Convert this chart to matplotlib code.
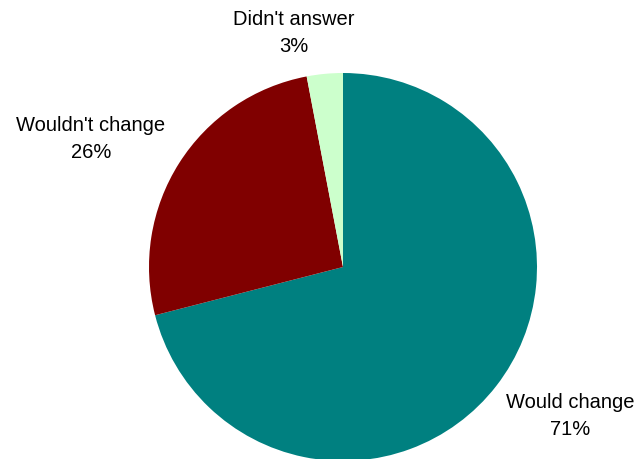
import matplotlib
matplotlib.use("Agg")
import matplotlib.pyplot as plt

categories = ["Would change", "Wouldn't change", "Didn't answer"]
shares = [71, 26, 3]
colors = ["#008080", "#800000", "#CCFFCC"]
# label anchor points (pixels from top-left) for each category
label_xy = [(570, 416), (91, 139), (294, 33)]

W, H = 638, 459
fig = plt.figure(figsize=(W / 100, H / 100), dpi=100)
ax = fig.add_axes([0, 0, 1, 1])

ax.pie(shares, colors=colors, startangle=90, counterclock=False,
       center=(343, H - 267), radius=194, frame=True,
       wedgeprops=dict(linewidth=0))
ax.set_xlim(0, W)
ax.set_ylim(0, H)
ax.set_aspect("equal")
ax.axis("off")

for name, val, (px, py) in zip(categories, shares, label_xy):
    ax.text(px, H - py, f"{name}\n{val}%", ha="center", va="center",
            fontsize=14.5, family="Liberation Sans", color="#000000",
            linespacing=1.58)

fig.savefig("out.png", dpi=100)
